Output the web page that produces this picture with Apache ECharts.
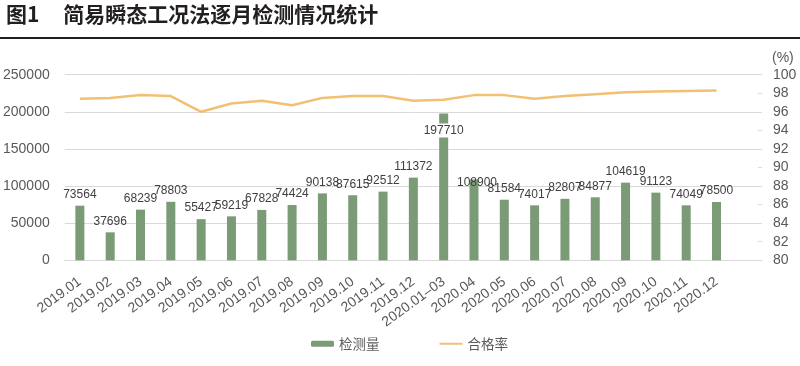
<!DOCTYPE html>
<html>
<head>
<meta charset="utf-8">
<script src="https://cdn.jsdelivr.net/npm/echarts@6/dist/echarts.min.js"></script>
<style>
html,body{margin:0;padding:0;background:#fff;}
#c{width:800px;height:366px;}
</style>
</head>
<body>
<div id="c"></div>
<script>
var title = '图1     简易瞬态工况法逐月检测情况统计';
var categories = ['2019.01','2019.02','2019.03','2019.04','2019.05','2019.06','2019.07','2019.08','2019.09','2019.10','2019.11','2019.12','2020.01–03','2020.04','2020.05','2020.06','2020.07','2020.08','2020.09','2020.10','2020.11','2020.12'];
var countValues = [73564,37696,68239,78803,55427,59219,67828,74424,90138,87615,92512,111372,197710,108900,81584,74017,82807,84877,104619,91123,74049,78500];
var rateValues = [97.4,97.5,97.8,97.7,96.0,96.9,97.2,96.7,97.5,97.7,97.7,97.2,97.3,97.8,97.8,97.4,97.7,97.9,98.1,98.2,98.25,98.3];
var leftTicks = {min:0, max:250000, interval:50000};
var rightTicks = {min:80, max:100, interval:2};
var seriesNames = ['检测量','合格率'];

var FONT = '"Liberation Sans", Arial, "Noto Sans CJK SC", sans-serif';
var axisCats = categories.concat(['']);
var barData = countValues.map(function(v, i){
  if (v === 197710) {
    return {value: v, label: {position: 'insideTop', distance: 10, backgroundColor: '#fff', padding: [1, 1]}};
  }
  if (v === 108900) {
    return {value: v, label: {offset: [3, 14]}};
  }
  return v;
});

var chart = echarts.init(document.getElementById('c'), null, {renderer:'canvas'});
chart.setOption({
  animation: false,
  backgroundColor: '#fff',
  textStyle: {fontFamily: FONT},
  title: {
    text: title, left: 1, top: -1,
    textStyle: {fontFamily: '"Noto Sans CJK SC", sans-serif', fontWeight: 'bold', fontSize: 21, color: '#231f20'}
  },
  graphic: [{type:'rect', shape:{x:0, y:37, width:800, height:2}, style:{fill:'#231f20'}, silent:true}],
  legend: {
    left: 306, top: 332, itemGap: 59, itemWidth: 23, itemHeight: 6,
    textStyle: {fontFamily: '"Noto Sans CJK SC", sans-serif', fontSize: 13.5, color: '#595959'},
    data: [{name: seriesNames[0]}, {name: seriesNames[1], itemStyle: {opacity: 0}}]
  },
  grid: {left: 64, right: 38, top: 74.7, bottom: 366 - 260.3, containLabel: false},
  xAxis: {
    type: 'category', data: axisCats, boundaryGap: true,
    axisLine: {show: true, lineStyle: {color: '#d9d9d9', width: 1}},
    axisTick: {show: false},
    axisLabel: {rotate: 36, interval: 0, margin: 20, fontSize: 14, color: '#595959', fontFamily: FONT}
  },
  yAxis: [{
    type: 'value', min: leftTicks.min, max: leftTicks.max, interval: leftTicks.interval,
    axisLine: {show: false}, axisTick: {show: false},
    axisLabel: {fontSize: 14, color: '#595959', margin: 15, fontFamily: FONT, formatter: function(v){ return String(v); }},
    splitLine: {lineStyle: {color: '#d9d9d9', width: 1}}
  }, {
    type: 'value', min: rightTicks.min, max: rightTicks.max, interval: rightTicks.interval,
    position: 'right',
    name: '(%)', nameLocation: 'end', nameGap: 10,
    nameTextStyle: {fontSize: 14, color: '#595959', align: 'left', padding: [0, 0, 0, 10], fontFamily: FONT},
    axisLine: {show: false},
    axisTick: {show: true, inside: true, length: 4, lineStyle: {color: '#d9d9d9'}},
    axisLabel: {fontSize: 14, color: '#595959', margin: 11, fontFamily: FONT},
    splitLine: {show: false}
  }],
  series: [{
    name: seriesNames[0], type: 'bar', yAxisIndex: 0, barWidth: 9,
    itemStyle: {color: '#7b9b76'},
    label: {show: true, position: 'top', distance: 5, fontSize: 12, color: '#404040', fontFamily: FONT},
    data: barData
  }, {
    name: seriesNames[1], type: 'line', yAxisIndex: 1, symbol: 'none',
    lineStyle: {color: '#f2c073', width: 2.5},
    itemStyle: {color: '#f2c073'},
    data: rateValues
  }]
});
</script>
</body>
</html>
